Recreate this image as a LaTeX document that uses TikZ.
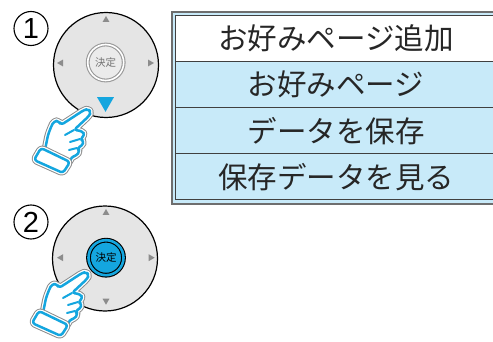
\documentclass[tikz,border=0pt]{standalone}
\usepackage{fontspec}
\usepackage{tikz}
\usetikzlibrary{shapes.geometric}
\newfontfamily\jp{Noto Sans CJK JP}
\newfontfamily\lat{Liberation Sans}
\definecolor{sky}{HTML}{C8EAF9}
\definecolor{tap}{HTML}{14A6DF}
\definecolor{frame}{HTML}{6E6E6E}
\tikzstyle{menu}=[draw=frame, line width=1.6pt, fill=sky]
\tikzstyle{item}=[rectangle, draw=black!75, line width=0.9pt, fill=sky, minimum width=322pt, minimum height=46.1pt, inner sep=0pt, font=\jp\fontsize{29.5}{30}\selectfont, text=black!85]
\tikzstyle{num}=[circle, draw, line width=1.1pt, minimum size=34pt, inner sep=0pt, font=\lat\fontsize{29}{30}\selectfont]
\tikzstyle{pad}=[circle, draw, line width=1.2pt, fill=black!10, minimum size=105pt]
\tikzstyle{key}=[circle, inner sep=0pt, font=\jp\fontsize{10.5}{11}\selectfont]
\tikzstyle{tri}=[regular polygon, regular polygon sides=3, fill=black!45, inner sep=0pt, minimum size=8pt]
\tikzstyle{hand}=[draw=tap, line width=2.5pt, fill=white, line join=round, rounded corners=3pt, preaction={draw=black!45, line width=7pt, line join=round}, preaction={draw=white, line width=5pt, line join=round}]
\tikzstyle{crease}=[draw=tap, line width=2pt, line cap=round]
\newcommand{\pointer}[2]{
	\begin{scope}[shift={(#1,#2)}]
		\draw[hand] (61,125) -- (84,110) -- (88,109) -- (91,112) -- (89,116) -- (74,130) -- (82,131) -- (85,135) -- (80,139) -- (84,141) -- (82,146) -- (77,148) -- (80,151) -- (76,156) -- (71,157) -- (70,163) -- (45,150) -- (48,135) -- (51,127) -- (54,121) -- (59,121) -- cycle;
		\draw[crease] (74,130) -- (65,135);
		\draw[crease] (80,139) -- (70,142);
		\draw[crease] (77,148) -- (69,150);
		\draw[hand] (41,148) -- (70,162) -- (63,173) -- (34,160) -- cycle;
	\end{scope}
}

\begin{document}
\begin{tikzpicture}[x=1pt, y=-1pt]
				\useasboundingbox (0,0) rectangle (493,342);
				\clip (0,0) rectangle (493,342);

				%The menu
				\draw[menu] (172,12) rectangle (500,204);
				\draw (336,38.55) node[item, fill=white] (add) {お好みページ追加};
				\draw (336,84.65) node[item] (fav) {お好みページ};
				\draw (336,130.75) node[item] (save) {データを保存};
				\draw (336,176.85) node[item] (view) {保存データを見る};

				%The first step
				\draw (31,28.5) node[num] (n1) {1};
				\draw (106,65) node[pad] (pad1) {};
				\draw (106,20) node[tri] (up1) {};
				\draw (61,63) node[tri, shape border rotate=90] (left1) {};
				\draw (150,63) node[tri, shape border rotate=-90] (right1) {};
				\draw (105.5,102) node[tri, fill=tap, minimum size=19.6pt, shape border rotate=180] (down1) {};
				\draw (105.7,62.5) node[key, minimum size=36pt, draw=black!40, double=white, double distance=1.6pt, line width=1.1pt, fill=black!8, text=black!55] (ok1) {決定};
				\pointer{0}{0}

				%The second step
				\draw (31,222) node[num] (n2) {2};
				\draw (105,258.5) node[pad] (pad2) {};
				\draw (106,213) node[tri] (up2) {};
				\draw (61,257.7) node[tri, shape border rotate=90] (left2) {};
				\draw (150.7,257.7) node[tri, shape border rotate=-90] (right2) {};
				\draw (106,300.7) node[tri, shape border rotate=180] (down2) {};
				\draw (106,257.7) node[key, minimum size=35pt, draw=black, double=tap, double distance=2.6pt, line width=1.1pt, fill=tap, text=black] (ok2) {決定};
				\pointer{-2}{163}
			\end{tikzpicture}
\end{document}
